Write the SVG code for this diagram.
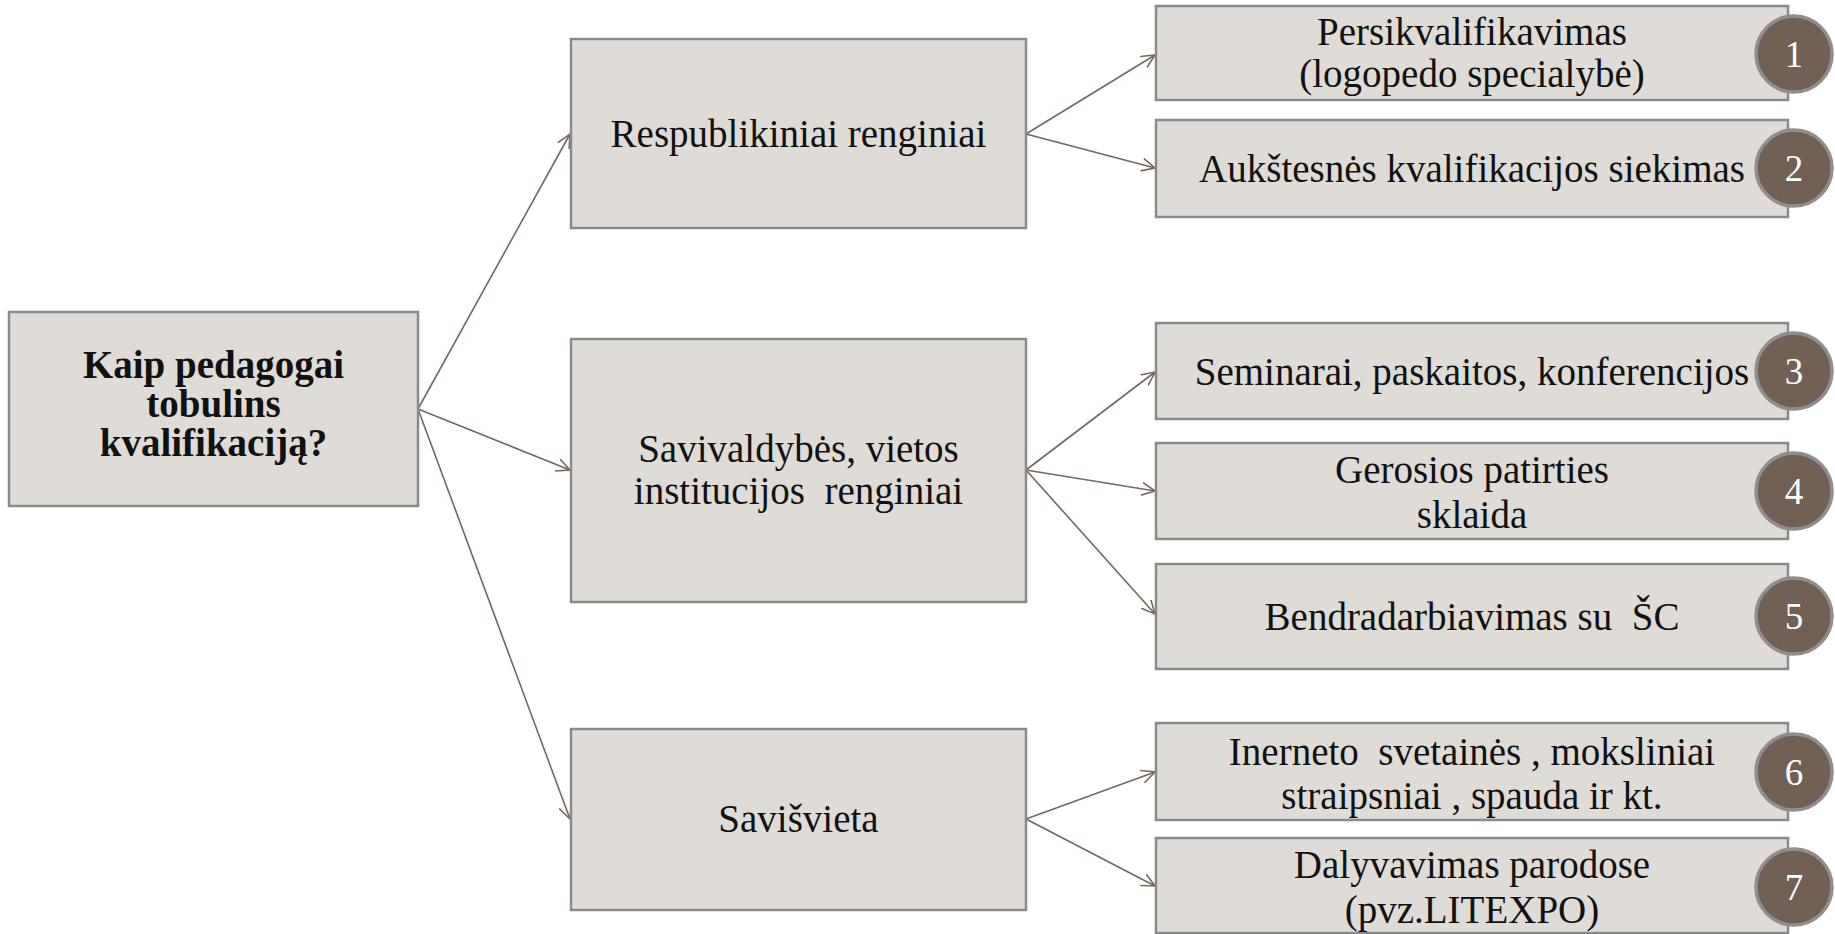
<svg xmlns="http://www.w3.org/2000/svg" width="1835" height="934" viewBox="0 0 1835 934">
  <style>
    .box { fill: #DFDBD7; stroke: #8A8A8A; stroke-width: 2.5; }
    .t { font-family: "Liberation Serif", "Times New Roman", serif; font-size: 39px; fill: #111111; text-anchor: middle; }
    .b { font-weight: bold; }
    .badge { fill: #726055; stroke: #8E8E8E; stroke-width: 3.5; }
    .num { font-family: "Liberation Serif", "Times New Roman", serif; font-size: 37px; fill: #FFFFFF; text-anchor: middle; }
    .conn { stroke: #76665D; stroke-width: 1.6; fill: none; }
  </style>
  <defs>
    <marker id="arr" viewBox="0 0 14 14" refX="13.5" refY="7" markerWidth="14" markerHeight="14" markerUnits="userSpaceOnUse" orient="auto">
      <path d="M0,0.5 L13.5,7 L0,13.5" fill="none" stroke="#76665D" stroke-width="1.6"/>
    </marker>
  </defs>
  <rect width="1835" height="934" fill="#FFFFFF"/>

  <g id="connectors">
    <line class="conn" x1="418" y1="409" x2="570" y2="134" marker-end="url(#arr)"/>
    <line class="conn" x1="418" y1="409" x2="570" y2="470" marker-end="url(#arr)"/>
    <line class="conn" x1="418" y1="409" x2="570" y2="819" marker-end="url(#arr)"/>
    <line class="conn" x1="1026" y1="134" x2="1155" y2="55" marker-end="url(#arr)"/>
    <line class="conn" x1="1026" y1="134" x2="1155" y2="168" marker-end="url(#arr)"/>
    <line class="conn" x1="1026" y1="470" x2="1155" y2="372" marker-end="url(#arr)"/>
    <line class="conn" x1="1026" y1="470" x2="1155" y2="491" marker-end="url(#arr)"/>
    <line class="conn" x1="1026" y1="470" x2="1155" y2="614" marker-end="url(#arr)"/>
    <line class="conn" x1="1026" y1="819" x2="1155" y2="772" marker-end="url(#arr)"/>
    <line class="conn" x1="1026" y1="819" x2="1155" y2="886" marker-end="url(#arr)"/>
  </g>

  <g id="root">
    <rect class="box" x="9" y="312" width="409" height="194"/>
    <text class="t b" x="213.5" y="378">Kaip pedagogai</text>
    <text class="t b" x="213.5" y="417">tobulins</text>
    <text class="t b" x="213.5" y="456">kvalifikaciją?</text>
  </g>

  <g id="respublikiniai">
    <rect class="box" x="571" y="39" width="455" height="189"/>
    <text class="t" x="798.5" y="147">Respublikiniai renginiai</text>
  </g>

  <g id="savivaldybes">
    <rect class="box" x="571" y="339" width="455" height="263"/>
    <text class="t" x="798.5" y="462">Savivaldybės, vietos</text>
    <text class="t" x="798.5" y="504" xml:space="preserve">institucijos  renginiai</text>
  </g>

  <g id="saviszvieta">
    <rect class="box" x="571" y="729" width="455" height="181"/>
    <text class="t" x="798.5" y="832">Savišvieta</text>
  </g>

  <g id="leaf1">
    <rect class="box" x="1156" y="6" width="632" height="94"/>
    <text class="t" x="1472" y="45">Persikvalifikavimas</text>
    <text class="t" x="1472" y="87">(logopedo specialybė)</text>
    <circle class="badge" cx="1794" cy="54" r="38"/>
    <text class="num" x="1794" y="67">1</text>
  </g>

  <g id="leaf2">
    <rect class="box" x="1156" y="120" width="632" height="97"/>
    <text class="t" x="1472" y="182">Aukštesnės kvalifikacijos siekimas</text>
    <circle class="badge" cx="1794" cy="168" r="38"/>
    <text class="num" x="1794" y="181">2</text>
  </g>

  <g id="leaf3">
    <rect class="box" x="1156" y="323" width="632" height="96"/>
    <text class="t" x="1472" y="385">Seminarai, paskaitos, konferencijos</text>
    <circle class="badge" cx="1794" cy="371" r="38"/>
    <text class="num" x="1794" y="384">3</text>
  </g>

  <g id="leaf4">
    <rect class="box" x="1156" y="443" width="632" height="96"/>
    <text class="t" x="1472" y="483">Gerosios patirties</text>
    <text class="t" x="1472" y="528">sklaida</text>
    <circle class="badge" cx="1794" cy="491" r="38"/>
    <text class="num" x="1794" y="504">4</text>
  </g>

  <g id="leaf5">
    <rect class="box" x="1156" y="564" width="632" height="105"/>
    <text class="t" x="1472" y="630" xml:space="preserve">Bendradarbiavimas su  ŠC</text>
    <circle class="badge" cx="1794" cy="616" r="38"/>
    <text class="num" x="1794" y="629">5</text>
  </g>

  <g id="leaf6">
    <rect class="box" x="1156" y="723" width="632" height="97"/>
    <text class="t" x="1472" y="765" xml:space="preserve">Inerneto  svetainės , moksliniai</text>
    <text class="t" x="1472" y="809">straipsniai , spauda ir kt.</text>
    <circle class="badge" cx="1794" cy="772" r="38"/>
    <text class="num" x="1794" y="785">6</text>
  </g>

  <g id="leaf7">
    <rect class="box" x="1156" y="838" width="632" height="95"/>
    <text class="t" x="1472" y="878">Dalyvavimas parodose</text>
    <text class="t" x="1472" y="923">(pvz.LITEXPO)</text>
    <circle class="badge" cx="1794" cy="887" r="38"/>
    <text class="num" x="1794" y="900">7</text>
  </g>
</svg>
